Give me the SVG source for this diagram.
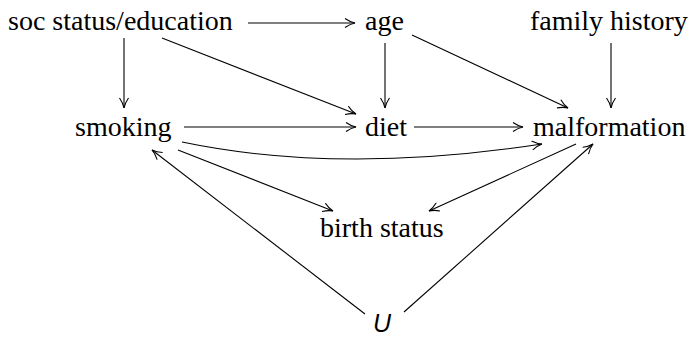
<svg xmlns="http://www.w3.org/2000/svg" width="694" height="338" viewBox="0 0 694 338">
<defs>
<style>
.t{font-family:'Liberation Serif','DejaVu Serif',serif;font-size:28px;fill:#000}
.u{font-family:'Liberation Sans','DejaVu Sans',sans-serif;font-size:25px;font-style:italic;fill:#000}
.e{fill:none;stroke:#000;stroke-width:1.1}
</style>
<marker id="ah" markerWidth="12" markerHeight="10" refX="11" refY="5" orient="auto" markerUnits="userSpaceOnUse" viewBox="0 0 12 10">
<path d="M1,0.5 Q6,4 11,5 Q6,6 1,9.5" fill="none" stroke="#000" stroke-width="1.1"/>
</marker>
</defs>
<rect width="694" height="338" fill="#fff"/>
<g id="edges">
<line class="e" x1="248" y1="23" x2="355" y2="23" marker-end="url(#ah)"/>
<line class="e" x1="124" y1="38" x2="124" y2="108" marker-end="url(#ah)"/>
<line class="e" x1="162" y1="38" x2="356" y2="114" marker-end="url(#ah)"/>
<line class="e" x1="184" y1="127" x2="356" y2="127" marker-end="url(#ah)"/>
<line class="e" x1="385" y1="43" x2="385" y2="108" marker-end="url(#ah)"/>
<line class="e" x1="412" y1="35" x2="568" y2="108" marker-end="url(#ah)"/>
<line class="e" x1="611" y1="43" x2="611" y2="108" marker-end="url(#ah)"/>
<line class="e" x1="414" y1="127" x2="523" y2="127" marker-end="url(#ah)"/>
<path class="e" d="M182,142 Q340,175 542,144" marker-end="url(#ah)"/>
<line class="e" x1="178" y1="150" x2="333" y2="211" marker-end="url(#ah)"/>
<line class="e" x1="576" y1="144" x2="429" y2="211" marker-end="url(#ah)"/>
<line class="e" x1="365" y1="314" x2="152" y2="150" marker-end="url(#ah)"/>
<line class="e" x1="404" y1="312" x2="593" y2="144" marker-end="url(#ah)"/>
</g>
<g id="soc"><text class="t" x="8" y="30" font-family="Liberation Serif">soc status/education</text></g>
<g id="age"><text class="t" x="365" y="30" font-family="Liberation Serif">age</text></g>
<g id="family"><text class="t" x="530" y="30" font-family="Liberation Serif">family history</text></g>
<g id="smoking"><text class="t" x="75" y="136" font-family="Liberation Serif">smoking</text></g>
<g id="diet"><text class="t" x="365" y="136" font-family="Liberation Serif">diet</text></g>
<g id="malformation"><text class="t" x="533" y="136" font-family="Liberation Serif">malformation</text></g>
<g id="birth"><text class="t" x="320" y="237" font-family="Liberation Serif">birth status</text></g>
<g id="U"><text class="u" x="373" y="332">U</text></g>
</svg>
